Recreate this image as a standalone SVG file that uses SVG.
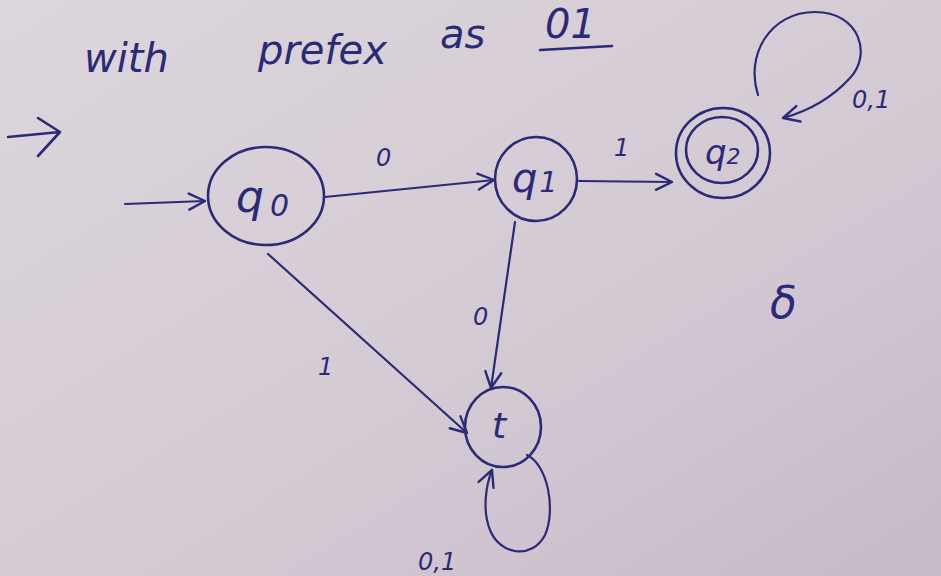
<svg xmlns="http://www.w3.org/2000/svg" width="941" height="576" viewBox="0 0 941 576">
<defs>
<linearGradient id="bg" x1="0" y1="0" x2="1" y2="1">
<stop offset="0" stop-color="#ddd6dc"/>
<stop offset="0.6" stop-color="#d3c9d3"/>
<stop offset="1" stop-color="#c6b9c8"/>
</linearGradient>
<marker id="arr" viewBox="0 0 20 20" refX="18" refY="10" markerWidth="20" markerHeight="20" markerUnits="userSpaceOnUse" orient="auto">
<path d="M2,2 L18,10 L2,18" fill="none" stroke="#2b2a78" stroke-width="2.4" stroke-linecap="round" stroke-linejoin="round"/>
</marker>
</defs>
<style>
.ink{fill:none;stroke:#2b2a78;stroke-width:2.6;stroke-linecap:round;stroke-linejoin:round}
.edge{fill:none;stroke:#2b2a78;stroke-width:2.2;stroke-linecap:round}
.hw{font-family:"DejaVu Sans","Liberation Sans",sans-serif;font-style:italic;fill:#2b2a78}
.lbl{font-family:"DejaVu Sans","Liberation Sans",sans-serif;font-style:italic;fill:#2b2a78;font-size:24px}
</style>
<rect width="941" height="576" fill="url(#bg)"/>

<g id="title">
<text class="hw" font-size="40"><tspan x="84" y="72">with</tspan><tspan x="258" y="64">prefex</tspan><tspan x="440" y="48">as</tspan><tspan x="545" y="38">01</tspan></text>
<line class="ink" x1="540" y1="50" x2="612" y2="46"/>
</g>

<g id="stray-arrow">
<path class="ink" d="M8,137 L60,132 M38,118 L60,132 L38,156"/>
</g>

<g id="connectors">
<path class="edge" d="M125,204 L205,201" marker-end="url(#arr)"/>
<path class="edge" d="M325,197 L494,180" marker-end="url(#arr)"/>
<text class="lbl" x="376" y="166">0</text>
<path class="edge" d="M579,181 L672,182" marker-end="url(#arr)"/>
<text class="lbl" x="614" y="156" font-size="20">1</text>
<path class="edge" d="M515,222 L491,388" marker-end="url(#arr)"/>
<text class="lbl" x="473" y="325">0</text>
<path class="edge" d="M268,254 L467,433" marker-end="url(#arr)"/>
<text class="lbl" x="318" y="375" font-size="22">1</text>
<path class="edge" d="M527,455 C548,465 556,510 545,535 C532,560 500,555 490,530 C482,510 486,485 492,470" marker-end="url(#arr)"/>
<text class="lbl" x="418" y="570">0,1</text>
<path class="edge" d="M758,95 C745,55 770,12 815,12 C860,12 872,55 850,78 C830,100 805,112 783,118" marker-end="url(#arr)"/>
<text class="lbl" x="852" y="108">0,1</text>
</g>

<g id="q0">
<ellipse class="ink" cx="266" cy="196" rx="58" ry="49"/>
<text class="hw" font-size="44" x="236" y="212">q<tspan font-size="30" dx="6" dy="4">0</tspan></text>
</g>

<g id="q1">
<ellipse class="ink" cx="536" cy="179" rx="41" ry="42"/>
<text class="hw" font-size="40" x="512" y="192">q<tspan font-size="28" dx="2">1</tspan></text>
</g>

<g id="q2">
<ellipse class="ink" cx="723" cy="153" rx="47" ry="45"/>
<ellipse class="ink" cx="722" cy="150" rx="36" ry="33"/>
<text class="hw" font-size="34" x="705" y="164">q<tspan font-size="22">2</tspan></text>
</g>

<g id="t">
<ellipse class="ink" cx="503" cy="427" rx="38" ry="40"/>
<text class="hw" font-size="36" x="492" y="438">t</text>
</g>

<g id="delta">
<text class="hw" font-size="44" x="770" y="318">δ</text>
</g>
</svg>
